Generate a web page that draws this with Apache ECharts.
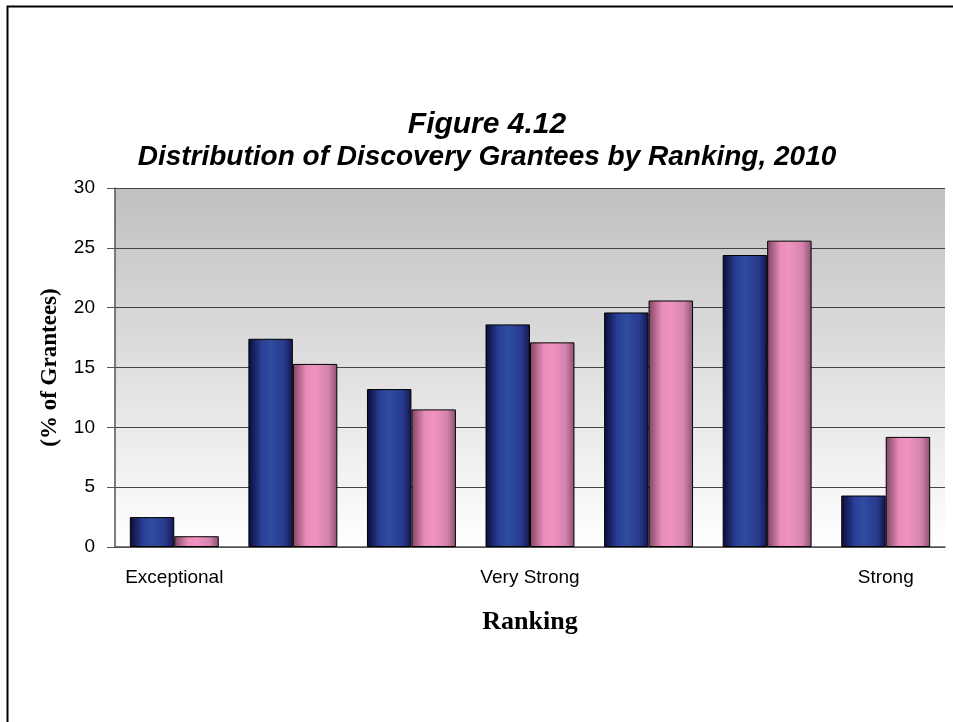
<!DOCTYPE html>
<html><head><meta charset="utf-8">
<script src="https://cdn.jsdelivr.net/npm/echarts@6/dist/echarts.min.js"></script>
<style>html,body{margin:0;padding:0;background:#fff}#c{width:953px;height:722px}</style>
</head><body><div id="c"></div>
<script>
const categories = ['Exceptional','c2','c3','Very Strong','c5','c6','Strong'];
const labelNames = ['Exceptional','','','Very Strong','','','Strong'];
const seriesA = [2.5, 17.4, 13.2, 18.6, 19.6, 24.4, 4.3];
const seriesB = [0.9, 15.3, 11.5, 17.1, 20.6, 25.6, 9.2];
const yTicks = [0,5,10,15,20,25,30];

const chart = echarts.init(document.getElementById('c'));
const blueGrad = new echarts.graphic.LinearGradient(0,0,1,0,[
  {offset:0,color:'#0b0b38'},{offset:0.3,color:'#2a3f96'},{offset:0.5,color:'#2e4c9f'},{offset:0.8,color:'#283a8e'},{offset:1,color:'#15154e'}]);
const pinkGrad = new echarts.graphic.LinearGradient(0,0,1,0,[
  {offset:0,color:'#7e4462'},{offset:0.3,color:'#e88cb9'},{offset:0.5,color:'#f093c0'},{offset:0.8,color:'#d483ad'},{offset:1,color:'#8c4f6f'}]);
const tFont = {fontFamily:'Liberation Sans',fontWeight:'bold',fontStyle:'italic',color:'#000'};
chart.setOption({
  animation:false,
  title:{text:'{a|Figure 4.12}\n{b|Distribution of Discovery Grantees by Ranking, 2010}',left:482,top:103,textAlign:'center',
    textStyle:{...tFont,fontSize:28,lineHeight:33,
      rich:{a:{...tFont,fontSize:30,lineHeight:33},b:{...tFont,fontSize:28,lineHeight:33}}}},
  graphic:[{type:'rect',shape:{x:7.5,y:6.5,width:1000,height:800},style:{fill:'none',stroke:'#000',lineWidth:2},z:-10}],
  grid:{left:115,right:8,top:188,bottom:175,show:true,borderWidth:0,
    backgroundColor:new echarts.graphic.LinearGradient(0,0,0,1,[{offset:0,color:'#c0c0c0'},{offset:1,color:'#ffffff'}])},
  xAxis:{type:'category',data:categories,
    axisLine:{show:true,lineStyle:{color:'#555',width:1.5}},axisTick:{show:false},
    axisLabel:{interval:0,formatter:(v,i)=>labelNames[i],fontFamily:'Liberation Sans',fontSize:19,color:'#000',margin:21},
    name:'Ranking',nameLocation:'middle',nameGap:62,
    nameTextStyle:{fontFamily:'Liberation Serif',fontWeight:'bold',fontSize:26,color:'#000'}},
  yAxis:{type:'value',min:0,max:30,interval:5,
    axisLine:{show:true,lineStyle:{color:'#555',width:1.5}},axisTick:{show:true,length:8,lineStyle:{color:'#555'}},
    axisLabel:{fontFamily:'Liberation Sans',fontSize:19,color:'#000',margin:20},
    splitLine:{show:true,lineStyle:{color:'#444',width:1.2}},
    name:'(% of Grantees)',nameLocation:'middle',nameGap:53,
    nameTextStyle:{fontFamily:'Liberation Serif',fontWeight:'bold',fontSize:23,color:'#000'}},
  series:[
    {type:'bar',data:seriesA,barGap:'0%',barCategoryGap:'25%',itemStyle:{color:blueGrad,borderColor:'#000',borderWidth:1}},
    {type:'bar',data:seriesB,itemStyle:{color:pinkGrad,borderColor:'#000',borderWidth:1}}
  ]
});
</script></body></html>
